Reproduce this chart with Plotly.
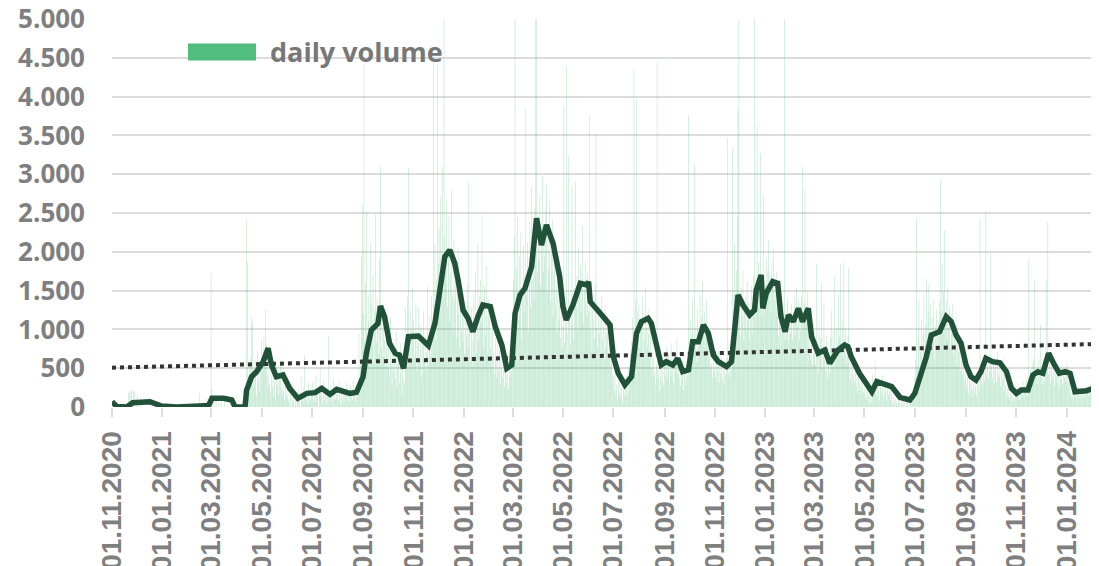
import pandas as pd
import plotly.graph_objects as go

# ---------------- daily volume (one list per month) ----------------
vol_2020_11 = [0,0,0,0,0,0,0,0,0,0, 0,0,0,0,0,0,0,0,0,0, 180,210,0,195,220,0,205,190,0,0]
vol_2020_12 = [0,150,0,0,0,120,0,0,0,0, 0,0,0,0,0,0,0,0,0,0, 0,0,0,0,0,40,0,0,0,0,0]
vol_2021_01 = [0,0,0,0,0,0,0,0,0,0, 0,0,0,0,0,0,0,0,0,0, 0,0,0,0,0,0,0,0,0,0,0]
vol_2021_02 = [0,0,0,0,0,0,0,0,0,0, 0,0,0,0,180,0,0,0,0,0, 0,0,120,0,0,0,0,60]
vol_2021_03 = [1730,220,0,90,0,0,150,0,0,60, 0,0,110,0,0,0,80,0,0,0, 0,0,0,0,0,0,0,0,0,0,0]
vol_2021_04 = [0,0,0,0,0,0,0,0,0,0, 0,0,2410,1870,300,520,180,640,1160,1090, 420,250,610,380,150,720,330,460,210,540]
vol_2021_05 = [880,460,720,910,650,1250,820,390,260,540, 300,180,420,250,610,140,330,90,520,280, 450,170,380,600,260,150,480,220,90,310,160]
vol_2021_06 = [120,260,80,40,190,0,310,60,150,20, 90,0,140,70,230,110,0,380,160,60, 250,670,130,90,200,40,310,120,80,260]
vol_2021_07 = [150,320,90,240,60,410,180,130,0,270, 520,140,210,60,330,90,180,250,40,160, 906,120,70,290,180,60,350,110,230,90,170]
vol_2021_08 = [210,90,330,160,40,280,120,190,60,240, 150,310,80,200,110,60,270,140,90,350, 180,70,230,120,260,150,940,380,620,1930,2600]
vol_2021_09 = [1200,4407,850,1600,2500,620,1100,1450,780,2100, 1350,900,1700,560,1250,2480,830,1400,1020,680, 1900,3100,750,1180,640,1320,870,520,1050,760]
vol_2021_10 = [520,940,380,1150,600,270,830,450,710,360, 980,240,560,690,310,820,430,150,620,380, 290,1280,540,850,1420,3080,760,1250,630,980,1540]
vol_2021_11 = [1120,640,880,1350,470,960,1280,560,740,1050, 390,820,1230,610,930,480,700,1560,540,860, 1180,650,1420,980,4446,1320,2100,870,1650,4407]
vol_2021_12 = [1850,2300,1200,2700,1650,3100,1400,6200,2200,1750, 2650,1300,1980,2450,1100,1720,2800,1450,960,2150, 1380,1680,890,1540,2050,1190,760,1420,980,1260,840]
vol_2022_01 = [1350,680,1120,920,1580,760,2900,1040,640,1290, 870,520,1460,980,1750,690,1230,2100,860,1420, 1640,1090,2480,1310,760,1560,930,1820,1170,690,1380]
vol_2022_02 = [1120,760,980,520,1340,690,430,880,610,370, 1050,480,720,290,640,510,380,830,260,590, 420,310,680,240,530,390,720,460]
vol_2022_03 = [980,1650,2200,7500,1340,1780,2450,1120,1960,1380, 2250,870,1540,2080,1230,1690,3827,1450,2120,980, 1760,2380,1290,2835,1630,2040,1380,2560,6800,8200,1750]
vol_2022_04 = [2450,1890,2720,1560,2130,2980,1740,2360,1930,2540, 2865,1480,2210,1780,2650,1360,1990,2420,1150,1720, 2080,1290,1560,960,1840,1120,1380,890,1230,760]
vol_2022_05 = [1050,3880,820,1240,4385,960,680,3235,1130,790, 1420,2850,1060,870,1540,2900,1280,1690,980,2050, 1470,1830,1210,1650,2340,1090,1520,1880,1340,1160,1720]
vol_2022_06 = [1240,3763,980,1460,720,1350,1130,890,1580,3518, 1020,760,1290,940,1150,680,1420,870,1060,590, 1310,780,960,1180,640,890,1090,520,760,430]
vol_2022_07 = [380,220,510,160,290,90,340,180,420,130, 250,60,310,190,140,280,410,170,520,230, 380,690,840,1150,720,4356,960,1380,3956,1240,880]
vol_2022_08 = [1320,760,1150,980,1430,690,1210,870,1540,1020, 780,1260,930,640,1080,520,710,380,620,450, 290,540,4450,360,480,210,390,560,320,470,280]
vol_2022_09 = [620,410,780,350,540,690,280,470,820,390, 560,310,720,480,650,890,430,560,380,270, 490,340,610,220,450,380,290,540,410,3763]
vol_2022_10 = [780,1120,650,940,1380,720,3119,860,1040,590, 1260,780,920,1450,830,1160,1620,980,1240,760, 1090,1380,840,950,620,780,490,560,380,640,470]
vol_2022_11 = [540,380,690,460,720,310,580,420,650,350, 490,280,560,410,630,3470,440,520,380,610, 470,3335,690,1450,2100,1280,1760,2450,3840,6500]
vol_2022_12 = [1380,920,1540,1170,1760,860,1290,1450,980,1620, 1130,1340,870,1210,1560,940,1280,1690,7200,1150, 1480,3621,1240,1870,1360,3270,1580,1190,1420,2730,1310]
vol_2023_01 = [1580,1920,1340,1760,2150,1480,1690,1230,1870,1560, 2040,1390,1620,1180,1750,1460,920,1280,1050,780, 1340,960,1150,6400,870,1240,1010,1390,860,1180,940]
vol_2023_02 = [1060,1320,880,1190,1450,920,1280,1540,1030,1360, 870,1210,980,1420,3097,1150,1340,2800,1090,1260, 1480,1130,760,940,620,850,540,720]
vol_2023_03 = [680,920,540,1850,760,430,1120,650,890,1580, 520,780,1340,610,470,920,380,560,720,430, 890,1240,650,980,520,1680,740,1020,630,870,1470]
vol_2023_04 = [920,1840,760,1120,640,1860,870,1030,560,780, 920,1790,480,360,610,290,530,420,330,480, 260,390,180,440,310,220,360,150,280,190]
vol_2023_05 = [240,130,320,90,210,160,60,280,110,50, 420,180,350,560,290,140,380,210,90,330, 260,170,410,120,280,190,340,80,230,150,310]
vol_2023_06 = [210,90,160,40,130,70,0,110,60,20, 90,150,30,0,80,40,120,10,60,0, 50,90,20,0,70,130,40,80,220,160]
vol_2023_07 = [380,620,2430,540,890,1380,460,720,1120,580, 940,1460,690,1050,1650,820,1240,1580,960,1320, 740,1150,880,1380,620,1040,1260,790,1120,940,1350]
vol_2023_08 = [2925,1240,1850,960,1480,2280,1120,1360,880,1540, 1020,1290,760,1180,940,1320,680,1050,820,1160, 540,930,710,880,460,760,590,420,680,350,510]
vol_2023_09 = [380,240,460,180,350,290,130,410,220,310, 170,380,260,140,450,320,210,2430,380,560, 290,470,340,620,2517,410,530,360,680,450]
vol_2023_10 = [1985,520,380,640,290,470,560,330,710,420, 380,590,260,480,350,620,190,410,280,150, 330,120,260,90,180,140,60,210,110,80,160]
vol_2023_11 = [240,130,310,180,90,260,210,150,330,120, 280,190,360,140,250,1894,310,480,220,560, 390,620,1637,450,380,520,290,610,430,1057]
vol_2023_12 = [380,520,290,610,340,470,1637,560,2388,420, 590,310,480,650,370,520,280,460,390,540, 310,420,260,480,350,530,290,440,380,510,330]
vol_2024_01 = [420,560,310,480,250,180,120,210,90,160, 140,230,110,190,260,150,80,220,170,130, 240,190,110,280,160,210,140,250,180,310,1357]
vol_2024_02 = [290,1180,240,380,210,330,260,410,300]

months = [
    ("2020-11-01", vol_2020_11), ("2020-12-01", vol_2020_12),
    ("2021-01-01", vol_2021_01), ("2021-02-01", vol_2021_02), ("2021-03-01", vol_2021_03),
    ("2021-04-01", vol_2021_04), ("2021-05-01", vol_2021_05), ("2021-06-01", vol_2021_06),
    ("2021-07-01", vol_2021_07), ("2021-08-01", vol_2021_08), ("2021-09-01", vol_2021_09),
    ("2021-10-01", vol_2021_10), ("2021-11-01", vol_2021_11), ("2021-12-01", vol_2021_12),
    ("2022-01-01", vol_2022_01), ("2022-02-01", vol_2022_02), ("2022-03-01", vol_2022_03),
    ("2022-04-01", vol_2022_04), ("2022-05-01", vol_2022_05), ("2022-06-01", vol_2022_06),
    ("2022-07-01", vol_2022_07), ("2022-08-01", vol_2022_08), ("2022-09-01", vol_2022_09),
    ("2022-10-01", vol_2022_10), ("2022-11-01", vol_2022_11), ("2022-12-01", vol_2022_12),
    ("2023-01-01", vol_2023_01), ("2023-02-01", vol_2023_02), ("2023-03-01", vol_2023_03),
    ("2023-04-01", vol_2023_04), ("2023-05-01", vol_2023_05), ("2023-06-01", vol_2023_06),
    ("2023-07-01", vol_2023_07), ("2023-08-01", vol_2023_08), ("2023-09-01", vol_2023_09),
    ("2023-10-01", vol_2023_10), ("2023-11-01", vol_2023_11), ("2023-12-01", vol_2023_12),
    ("2024-01-01", vol_2024_01), ("2024-02-01", vol_2024_02),
]

# ---------------- moving-average line ----------------
ma_dates = [
    "2020-11-01","2020-11-07","2020-11-19","2020-11-26","2020-12-17","2020-12-31",
    "2021-01-18","2021-02-11","2021-02-15","2021-02-26","2021-03-02","2021-03-16",
    "2021-03-26","2021-03-30","2021-04-11","2021-04-13","2021-04-19","2021-04-25",
    "2021-05-03","2021-05-09","2021-05-13","2021-05-19","2021-05-27","2021-06-04",
    "2021-06-14","2021-06-25","2021-07-05","2021-07-13","2021-07-23","2021-07-31",
    "2021-08-16","2021-08-24","2021-09-01","2021-09-05","2021-09-11","2021-09-19",
    "2021-09-22","2021-09-27","2021-10-03","2021-10-10","2021-10-15","2021-10-20",
    "2021-10-26","2021-11-07","2021-11-19","2021-11-27","2021-12-03","2021-12-09",
    "2021-12-15","2021-12-21","2021-12-25","2021-12-31","2022-01-06","2022-01-12",
    "2022-01-18","2022-01-24","2022-02-02","2022-02-08","2022-02-16","2022-02-22",
    "2022-02-28","2022-03-04","2022-03-10","2022-03-16","2022-03-24","2022-03-30",
    "2022-04-05","2022-04-11","2022-04-19","2022-04-27","2022-05-01","2022-05-05",
    "2022-05-13","2022-05-22","2022-05-30","2022-06-01","2022-06-03","2022-06-09",
    "2022-06-17","2022-06-27","2022-07-01","2022-07-07","2022-07-15","2022-07-23",
    "2022-07-29","2022-08-04","2022-08-12","2022-08-16","2022-08-22","2022-08-28",
    "2022-09-03","2022-09-11","2022-09-17","2022-09-23","2022-09-30","2022-10-05",
    "2022-10-12","2022-10-18","2022-10-24","2022-10-30","2022-11-05","2022-11-15",
    "2022-11-21","2022-11-29","2022-12-05","2022-12-13","2022-12-19","2022-12-21",
    "2022-12-27","2022-12-29","2023-01-02","2023-01-10","2023-01-16","2023-01-20",
    "2023-01-25","2023-01-29","2023-02-04","2023-02-10","2023-02-15","2023-02-22",
    "2023-02-26","2023-03-06","2023-03-14","2023-03-20","2023-03-30","2023-04-07",
    "2023-04-11","2023-04-15","2023-04-25","2023-05-01","2023-05-10","2023-05-16",
    "2023-05-24","2023-06-03","2023-06-13","2023-06-25","2023-07-01","2023-07-07",
    "2023-07-15","2023-07-21","2023-07-31","2023-08-08","2023-08-14","2023-08-20",
    "2023-08-26","2023-09-01","2023-09-07","2023-09-13","2023-09-19","2023-09-25",
    "2023-10-03","2023-10-12","2023-10-20","2023-10-26","2023-11-01","2023-11-07",
    "2023-11-15","2023-11-21","2023-11-27","2023-12-03","2023-12-10","2023-12-16",
    "2023-12-23","2023-12-30","2024-01-05","2024-01-11","2024-01-25","2024-02-02",
    "2024-02-09",
]
ma_values = [
    68, 5, 0, 55, 68, 13,
    0, 0, 13, 20, 112, 112,
    90, 0, 0, 219, 390, 455,
    584, 756, 541, 390, 412, 241,
    112, 176, 185, 241, 163, 228,
    176, 190, 390, 692, 992, 1078,
    1300, 1164, 820, 692, 670, 498,
    906, 915, 790, 1078, 1465, 1937,
    2023, 1851, 1637, 1250, 1143, 970,
    1164, 1314, 1293, 1035, 799, 498,
    541, 1207, 1443, 1529, 1808, 2432,
    2088, 2345, 2110, 1679, 1293, 1121,
    1314, 1594, 1572, 1615, 1357, 1293,
    1186, 1057, 648, 434, 284, 390,
    949, 1100, 1143, 1078, 777, 541,
    584, 541, 627, 455, 477, 842,
    842, 1057, 949, 670, 584, 520,
    584, 1443, 1314, 1186, 1250, 1508,
    1701, 1271, 1465, 1615, 1594, 1164,
    970, 1186, 1100, 1271, 1100, 1271,
    906, 692, 734, 563, 734, 799,
    777, 648, 434, 326, 197, 326,
    305, 262, 125, 90, 176, 390,
    648, 928, 970, 1164, 1100, 928,
    820, 541, 390, 348, 455, 627,
    584, 570, 455, 241, 176, 219,
    219, 412, 455, 434, 692, 563,
    434, 455, 434, 197, 210, 241,
    284,
]

# ---------------- linear trend ----------------
trend_dates = ["2020-11-01", "2024-02-09"]
trend_values = [507, 812]

# ---------------- axes ----------------
x_range = ["2020-11-01", "2024-02-09"]
y_ticks = list(range(0, 5001, 500))
legend_label = "daily volume"

# build daily series
vol_dates, vol_values = [], []
for start, arr in months:
    d0 = pd.Timestamp(start)
    for i, v in enumerate(arr):
        vol_dates.append(d0 + pd.Timedelta(days=i))
        vol_values.append(v)

GRAY = "#7f7f7f"
GRID = "#dcdcdc"

fig = go.Figure()
fig.add_trace(go.Bar(
    x=vol_dates, y=vol_values, name=legend_label,
    marker=dict(color="rgba(82,190,128,0.40)", line=dict(width=0)),
    showlegend=False, hoverinfo="skip",
))
fig.add_trace(go.Scatter(
    x=trend_dates, y=trend_values, mode="lines",
    line=dict(color="#333333", width=4, dash="dot"),
    showlegend=False, hoverinfo="skip",
))
fig.add_trace(go.Scatter(
    x=ma_dates, y=ma_values, mode="lines",
    line=dict(color="#225139", width=5.5),
    showlegend=False,
))

# the page body has an 8px margin: the figure starts at (8, 8) in the window
fig.update_layout(
    template="none",
    width=1091, height=558,
    margin=dict(l=104, r=0, t=11, b=159, pad=0),
    paper_bgcolor="white", plot_bgcolor="white",
    separators=",.",
    bargap=0.3,
    showlegend=False,
    xaxis=dict(
        type="date", range=x_range, automargin=False,
        tick0="2020-11-01", dtick="M2", tickformat="%d.%m.%Y",
        tickangle=-90, showgrid=False, zeroline=False, showline=False,
        ticks="outside", ticklen=9, tickwidth=2, tickcolor=GRID,
        ticklabelstandoff=3, ticklabeloverflow="allow",
        tickfont=dict(family="Liberation Sans, Arial, sans-serif", size=28, color=GRAY, weight="bold"),
    ),
    yaxis=dict(
        range=[0, 5000], tickvals=y_ticks, tickformat=",d", automargin=False,
        showgrid=True, gridcolor=GRID, gridwidth=2, zeroline=False, showline=False,
        ticks="", ticklabelstandoff=26, ticklabeloverflow="allow",
        tickfont=dict(family="Open Sans, sans-serif", size=26, color=GRAY, weight="bold"),
    ),
    shapes=[dict(
        type="rect", xref="paper", yref="paper",
        x0=(188 - 112) / 987, x1=(256 - 112) / 987,
        y0=(407 - 60.5) / 388, y1=(407 - 43.5) / 388,
        fillcolor="#52BE7E", line=dict(width=0),
    )],
    annotations=[dict(
        text=legend_label, xref="paper", yref="paper",
        x=(268 - 112) / 987, y=(407 - 51) / 388, xanchor="left", yanchor="middle",
        showarrow=False,
        font=dict(family="Open Sans, sans-serif", size=27, color="#777777", weight="bold"),
    )],
)

fig.write_html("out.html")
